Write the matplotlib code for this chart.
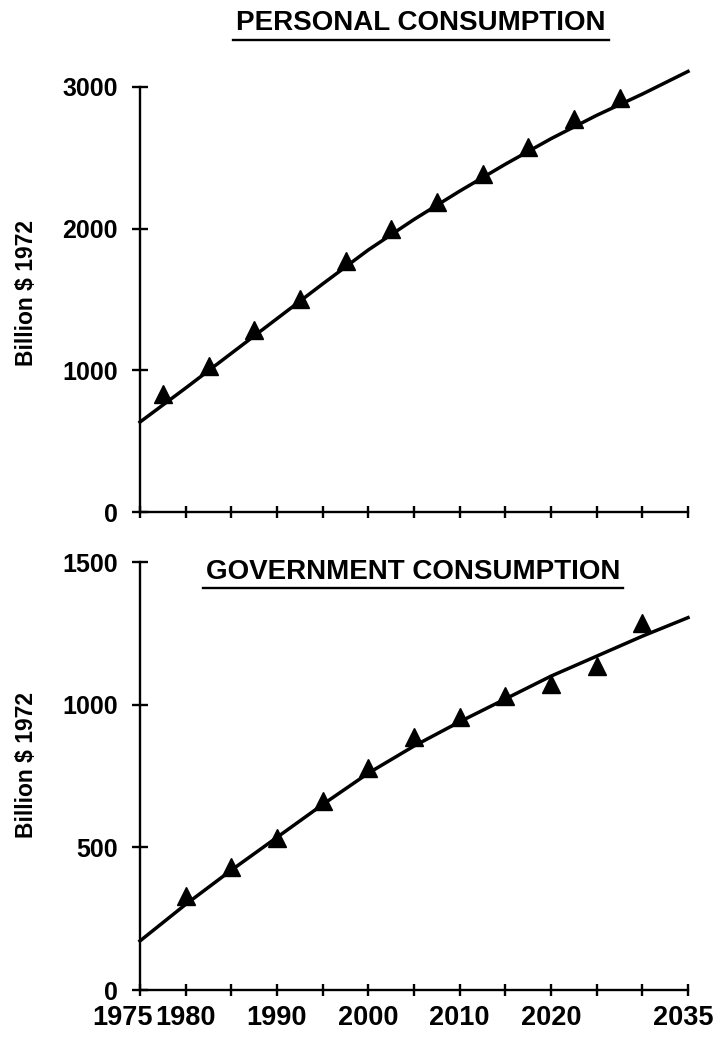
import numpy as np
import matplotlib
matplotlib.use('Agg')
import matplotlib.pyplot as plt
import matplotlib.transforms as mtransforms
from matplotlib.lines import Line2D

plt.rcParams['font.family'] = ['Liberation Sans', 'DejaVu Sans']
plt.rcParams['font.weight'] = 'bold'

# fitted curves, read every 5 years
line_years = [1975, 1980, 1985, 1990, 1995, 2000, 2005, 2010, 2015, 2020, 2025, 2030, 2035]
personal_line = [635, 875, 1120, 1365, 1610, 1850, 2065, 2265, 2455, 2635, 2800, 2950, 3110]
gov_line = [172, 300, 420, 535, 650, 760, 855, 940, 1020, 1100, 1170, 1240, 1305]

# triangle markers
personal_years = [1977.5, 1982.5, 1987.5, 1992.5, 1997.5, 2002.5, 2007.5, 2012.5, 2017.5, 2022.5, 2027.5]
personal_pts = [830, 1031, 1284, 1503, 1773, 1995, 2191, 2384, 2573, 2774, 2920]
gov_years = [1980, 1985, 1990, 1995, 2000, 2005, 2010, 2015, 2020, 2025, 2030]
gov_pts = [331, 431, 533, 662, 778, 888, 956, 1029, 1072, 1134, 1287]

xtick_years = list(range(1975, 2036, 5))
xtick_labels = ['1975', '1980', '', '1990', '', '2000', '', '2010', '', '2020', '', '', '2035']
personal_yticks = [0, 1000, 2000, 3000]
gov_yticks = [0, 500, 1000, 1500]

W, H = 717, 1038
fig = plt.figure(figsize=(W / 100, H / 100), dpi=100)


def px_axes(left, top, right, bottom):
    return fig.add_axes([left / W, 1 - bottom / H, (right - left) / W, (bottom - top) / H])


def style(ax, ymax, yticks):
    ax.set_xlim(1975, 2035)
    ax.set_ylim(0, ymax)
    ax.spines[['top', 'right']].set_visible(False)
    for s in ['left', 'bottom']:
        ax.spines[s].set_linewidth(1.7)
    ax.set_xticks(xtick_years)
    ax.set_yticks(yticks)
    ax.tick_params(axis='y', direction='inout', length=11, width=1.7, labelsize=18, pad=10.3)
    ax.tick_params(axis='x', direction='inout', length=8, width=1.7, labelsize=19.5, pad=6.5)


ax1 = px_axes(140, 87, 688, 512)
ax2 = px_axes(140, 562, 688, 990)

style(ax1, 3000, personal_yticks)
style(ax2, 1500, gov_yticks)
ax1.set_xticklabels([''] * len(xtick_years))
ax2.set_xticklabels(xtick_labels)

ax1.plot(line_years, personal_line, color='black', lw=2.5, clip_on=False)
ax1.plot(personal_years, personal_pts, '^', color='black', ms=13, clip_on=False)
ax2.plot(line_years, gov_line, color='black', lw=2.5, clip_on=False)
ax2.plot(gov_years, gov_pts, '^', color='black', ms=13, clip_on=False)

# 1975 label sits left of its tick, 2035 slightly left too
labs = ax2.get_xticklabels()
labs[0].set_transform(labs[0].get_transform() + mtransforms.ScaledTranslation(-18 / 100, 0, fig.dpi_scale_trans))
labs[-1].set_transform(labs[-1].get_transform() + mtransforms.ScaledTranslation(-5 / 100, 0, fig.dpi_scale_trans))

fig.text(27 / W, 1 - 293 / H, 'Billion $ 1972', rotation=90, ha='center', va='center', fontsize=16.5)
fig.text(27 / W, 1 - 765 / H, 'Billion $ 1972', rotation=90, ha='center', va='center', fontsize=16.5)

t1 = fig.text(421 / W, 1 - 30 / H, 'PERSONAL CONSUMPTION', ha='center', va='baseline', fontsize=20)
t2 = fig.text(413 / W, 1 - 579 / H, 'GOVERNMENT CONSUMPTION', ha='center', va='baseline', fontsize=20)

# underline the titles
fig.canvas.draw()
for t, uy in [(t1, 40), (t2, 588)]:
    bb = t.get_window_extent()
    fig.add_artist(Line2D([(bb.x0 - 3) / W, (bb.x1 + 3) / W], [1 - uy / H, 1 - uy / H],
                          transform=fig.transFigure, color='black', lw=1.7))

fig.savefig('out.png', dpi=100)
